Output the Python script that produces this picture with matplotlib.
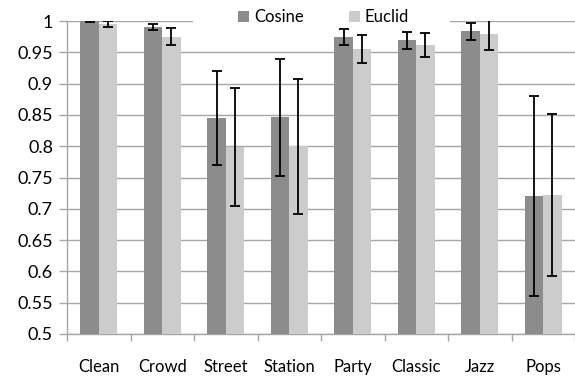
import numpy as np
import matplotlib.pyplot as plt
from matplotlib.patches import Rectangle
from matplotlib.ticker import MultipleLocator, FormatStrFormatter

categories = ["Clean", "Crowd", "Street", "Station", "Party", "Classic", "Jazz", "Pops"]
cosine = [0.9998, 0.990, 0.845, 0.846, 0.974, 0.969, 0.9835, 0.720]
cosine_err = [0.001, 0.005, 0.075, 0.093, 0.013, 0.014, 0.014, 0.160]
euclid = [0.995, 0.975, 0.799, 0.800, 0.955, 0.962, 0.980, 0.722]
euclid_err = [0.005, 0.0135, 0.094, 0.108, 0.022, 0.019, 0.027, 0.130]

plt.rcParams['font.family'] = ['Lato', 'DejaVu Sans']

fig = plt.figure(figsize=(5.75, 3.81), dpi=100)
ax = fig.add_axes([67 / 575, 1 - 334 / 381, 508 / 575, 313 / 381])

x = np.arange(len(categories))
w = 0.29
err_kw = dict(ecolor='black', elinewidth=1.3, capsize=3.5, capthick=1.3)

ax.bar(x - w / 2, cosine, w, color='#8c8c8c', label='Cosine',
       yerr=cosine_err, error_kw=err_kw, zorder=3)
ax.bar(x + w / 2, euclid, w, color='#cccccc', label='Euclid',
       yerr=euclid_err, error_kw=err_kw, zorder=3)

ax.set_xlim(-0.5, len(categories) - 0.5)
ax.set_ylim(0.5, 1.0)
ax.yaxis.set_major_locator(MultipleLocator(0.05))
ax.yaxis.set_major_formatter(FormatStrFormatter('%g'))
ax.grid(axis='y', color='#a6a6a6', linewidth=1.0, zorder=0)
ax.set_axisbelow(True)

ax.set_xticks(x)
ax.set_xticklabels(categories)
ax.set_xticks(np.arange(-0.5, len(categories)), minor=True)
ax.tick_params(axis='x', which='major', length=0, pad=18, labelsize=12)
ax.tick_params(axis='x', which='minor', length=5, color='#a6a6a6', width=1.0)
ax.tick_params(axis='y', length=6, color='#a6a6a6', width=1.0, labelsize=13, pad=4)

for side in ['top', 'right']:
    ax.spines[side].set_visible(False)
for side in ['left', 'bottom']:
    ax.spines[side].set_color('#a6a6a6')
    ax.spines[side].set_linewidth(1.0)

# white band behind the legend hides the top gridline
gap = Rectangle(((193 - 67) / 508, 0.99), (450 - 193) / 508, 0.02,
                transform=ax.transAxes, facecolor='white', edgecolor='none',
                clip_on=False, zorder=1)
ax.add_patch(gap)

leg = fig.legend(loc='center', bbox_to_anchor=(0.5626, 1 - 17 / 381), ncol=2,
                 frameon=False, fontsize=12, handlelength=0.66, handleheight=0.66,
                 columnspacing=2.7, handletextpad=0.3, borderpad=0.0)

fig.savefig('out.png', dpi=100)
